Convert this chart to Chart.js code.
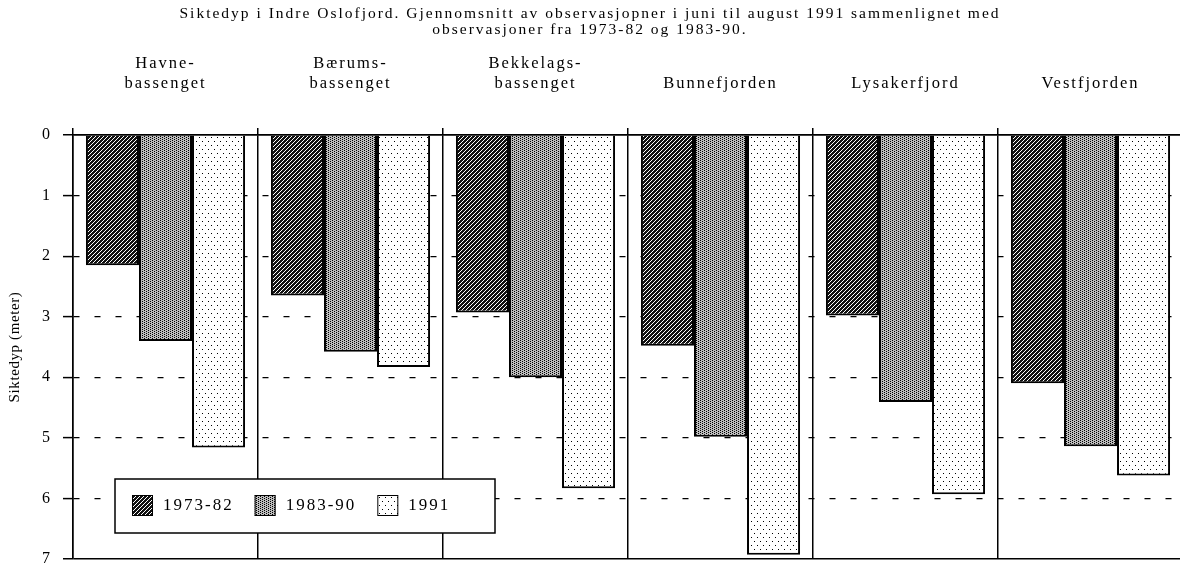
<!DOCTYPE html>
<html>
<head>
<meta charset="utf-8">
<script src="https://cdn.jsdelivr.net/npm/chart.js@4.4.0/dist/chart.umd.min.js"></script>
<style>
  html, body { margin: 0; padding: 0; background: #fff; }
  canvas { display: block; }
</style>
</head>
<body>
<canvas id="grafico" width="1180" height="566"></canvas>
<script>
// --- data ---
const categories = [
    ['Havne-', 'bassenget'],
    ['Bærums-', 'bassenget'],
    ['Bekkelags-', 'bassenget'],
    'Bunnefjorden',
    'Lysakerfjord',
    'Vestfjorden'
];
const seriesNames = ['1973-82', '1983-90', '1991'];
const values7382 = [2.15, 2.65, 2.93, 3.48, 2.98, 4.10];
const values8390 = [3.40, 3.58, 4.00, 4.98, 4.41, 5.14];
const values1991 = [5.16, 3.83, 5.83, 6.93, 5.93, 5.62];
const yTicks = [0, 1, 2, 3, 4, 5, 6, 7];
const yTitle = 'Siktedyp (meter)';

const FONT = 'Liberation Serif';
const SPACING = '2px';

// fill patterns like the printed original
function makePattern(kind) {
    const c = document.createElement('canvas');
    const g = c.getContext('2d');
    if (kind === 'hatch') {
        c.width = 4; c.height = 4;
        g.fillStyle = '#111';
        g.fillRect(0, 0, 4, 4);
        g.fillStyle = '#fff';
        for (let i = 0; i < 4; i++) g.fillRect(3 - i, i, 1, 1);
    } else if (kind === 'stipple') {
        c.width = 4; c.height = 2;
        g.fillStyle = '#bcbcbc';
        g.fillRect(0, 0, 4, 2);
        g.fillStyle = '#000';
        g.fillRect(0, 0, 1, 1);
        g.fillRect(2, 1, 1, 1);
    } else {
        c.width = 6; c.height = 8;
        g.fillStyle = '#fff';
        g.fillRect(0, 0, 6, 8);
        g.fillStyle = '#000';
        g.fillRect(1, 1, 1, 1);
        g.fillRect(4, 5, 1, 1);
    }
    return g.createPattern(c, 'repeat');
}

const patterns = [makePattern('hatch'), makePattern('stipple'), makePattern('dots')];

// the original typeface is set wide
const spacing = {
    id: 'spacing',
    beforeLayout(chart) { chart.ctx.letterSpacing = SPACING; },
    beforeDraw(chart) { chart.ctx.letterSpacing = SPACING; }
};

// the printed plot runs a few pixels past the right edge of the page
const bleedRight = {
    id: 'bleedRight',
    afterLayout(chart) {
        const extra = 3;
        const x = chart.scales.x;
        x.right += extra;
        x.width += extra;
        x.configure();
        chart.chartArea.right += extra;
        chart.chartArea.width += extra;
    }
};

// y title drawn with tighter spacing than the rest
const sideTitle = {
    id: 'sideTitle',
    afterDraw(chart) {
        const ctx = chart.ctx;
        const area = chart.chartArea;
        ctx.save();
        ctx.letterSpacing = '0.6px';
        ctx.translate(15, (area.top + area.bottom) / 2);
        ctx.rotate(-Math.PI / 2);
        ctx.font = '15px "' + FONT + '"';
        ctx.fillStyle = '#000';
        ctx.textAlign = 'center';
        ctx.textBaseline = 'middle';
        ctx.fillText(yTitle, 0, 0);
        ctx.restore();
    }
};

// boxed legend sitting inside the plot, lower left
const boxLegend = {
    id: 'boxLegend',
    afterDraw(chart) {
        const ctx = chart.ctx;
        ctx.save();
        ctx.letterSpacing = SPACING;
        ctx.fillStyle = '#fff';
        ctx.strokeStyle = '#000';
        ctx.lineWidth = 1.5;
        ctx.fillRect(115, 479, 380, 54);
        ctx.strokeRect(115, 479, 380, 54);
        ctx.font = '17px "' + FONT + '"';
        ctx.textBaseline = 'middle';
        ctx.textAlign = 'left';
        let x = 132;
        chart.data.datasets.forEach(function (ds) {
            ctx.fillStyle = ds.backgroundColor;
            ctx.fillRect(x, 495, 21, 21);
            ctx.lineWidth = 1;
            ctx.strokeRect(x + 0.5, 495.5, 20, 20);
            ctx.fillStyle = '#000';
            ctx.fillText(ds.label, x + 31, 506);
            x += 31 + ctx.measureText(ds.label).width + 21;
        });
        ctx.restore();
    }
};

const ctx = document.getElementById('grafico').getContext('2d');

new Chart(ctx, {
    type: 'bar',
    data: {
        labels: categories,
        datasets: [
            { label: seriesNames[0], data: values7382, backgroundColor: patterns[0] },
            { label: seriesNames[1], data: values8390, backgroundColor: patterns[1] },
            { label: seriesNames[2], data: values1991, backgroundColor: patterns[2] }
        ]
    },
    options: {
        responsive: false,
        animation: false,
        events: [],
        datasets: {
            bar: {
                categoryPercentage: 0.86,
                barPercentage: 1.0,
                borderColor: '#000',
                borderWidth: 2
            }
        },
        layout: {
            padding: { left: 0, right: 0, top: 0, bottom: 7 }
        },
        scales: {
            x: {
                position: 'top',
                offset: true,
                grid: {
                    offset: true,
                    color: '#000',
                    lineWidth: 1.5,
                    tickLength: 7,
                    tickColor: '#000',
                    tickWidth: 1.5
                },
                border: { color: '#000', width: 1.5 },
                ticks: {
                    color: '#000',
                    padding: 34,
                    maxRotation: 0,
                    autoSkip: false,
                    font: { family: FONT, size: 16.5, lineHeight: '20px' }
                },
                afterFit(scale) {
                    scale.height = 97;
                    scale.paddingLeft = 0;
                    scale.paddingRight = 0;
                }
            },
            y: {
                reverse: true,
                min: 0,
                max: 7,
                afterBuildTicks(scale) {
                    scale.ticks = yTicks.map(v => ({ value: v }));
                },
                grid: {
                    color: '#000',
                    lineWidth: c => (c.tick && (c.tick.value === 0 || c.tick.value === 7)) ? 1.5 : 1.2,
                    tickLength: 10,
                    tickColor: '#000',
                    tickWidth: 1.5
                },
                border: {
                    color: '#000',
                    width: 1.5,
                    dash: c => (c.tick && c.tick.value !== 0 && c.tick.value !== 7) ? [6, 15] : []
                },
                ticks: {
                    color: '#000',
                    padding: 11,
                    font: { family: FONT, size: 16 }
                },
                afterFit(scale) {
                    scale.width = 73;
                    scale.paddingTop = 0;
                    scale.paddingBottom = 0;
                }
            }
        },
        plugins: {
            legend: { display: false },
            tooltip: { enabled: false },
            title: {
                display: true,
                text: [
                    'Siktedyp i Indre Oslofjord. Gjennomsnitt av observasjopner i juni til august 1991 sammenlignet med',
                    'observasjoner fra 1973-82 og 1983-90.'
                ],
                color: '#000',
                padding: { top: 6, bottom: 0 },
                font: { family: FONT, size: 15.5, weight: 'normal', lineHeight: '16px' }
            }
        }
    },
    plugins: [spacing, bleedRight, sideTitle, boxLegend]
});
</script>
</body>
</html>
